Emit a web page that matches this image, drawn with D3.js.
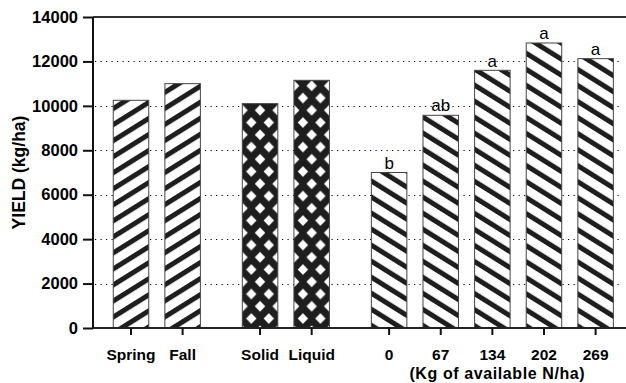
<!DOCTYPE html>
<html>
<head>
<meta charset="utf-8">
<script src="https://cdn.jsdelivr.net/npm/d3@7"></script>
<style>
  html, body { margin: 0; padding: 0; background: #fff; }
  svg { display: block; }
  text { font-family: "Liberation Sans", Arial, sans-serif; fill: #000; }
</style>
</head>
<body>
<script>
// ---- data ----
const categories = ["Spring", "Fall", "Solid", "Liquid", "0", "67", "134", "202", "269"];
const groups     = ["timing", "timing", "source", "source", "rate", "rate", "rate", "rate", "rate"];
const yields     = [10250, 11000, 10100, 11150, 7000, 9575, 11600, 12830, 12125];
const letters    = ["", "", "", "", "b", "ab", "a", "a", "a"];
const fills      = ["fwd", "fwd", "cross", "cross", "back", "back", "back", "back", "back"];
const yTicks     = [0, 2000, 4000, 6000, 8000, 10000, 12000, 14000];
const gridTicks  = [2000, 4000, 6000, 8000, 10000, 12000];
const yTitle     = "YIELD (kg/ha)";
const rateTitle  = "(Kg of available N/ha)";

// ---- layout ----
const W = 626, H = 383;
const mLeft = 93, mRight = 626, mTop = 17, mBottom = 328;
const barW = 35.5;
const dark = "#1e1e1e";

const svg = d3.select("body").append("svg").attr("width", W).attr("height", H);

// slot index: bar index plus half-slot gap between groups
const groupNames = Array.from(new Set(groups));
const slots = categories.map((c, i) => i + 0.5 * groupNames.indexOf(groups[i]));

const x = d3.scaleLinear().domain([0, 9]).range([131, 595.6]);
const y = d3.scaleLinear().domain([0, 14000]).range([mBottom, mTop]);

// ---- patterns ----
const defs = svg.append("defs");
function stripes(id, angle) {
  const s = 13.6;
  const p = defs.append("pattern").attr("id", id)
    .attr("patternUnits", "userSpaceOnUse")
    .attr("width", s).attr("height", s)
    .attr("patternTransform", `rotate(${angle})`);
  p.append("rect").attr("width", s).attr("height", s).attr("fill", "#fff");
  p.append("rect").attr("width", 5).attr("height", s).attr("fill", dark);
}
stripes("fwd", 58);
stripes("back", -58);

categories.forEach((c, i) => {
  if (fills[i] !== "cross") return;
  const tw = 17.5, th = 24.5, dx = 5.2, dy = 5.4;
  const p = defs.append("pattern").attr("id", "cross" + i)
    .attr("patternUnits", "userSpaceOnUse")
    .attr("x", x(slots[i])).attr("y", 208.3)
    .attr("width", tw).attr("height", th);
  p.append("rect").attr("width", tw).attr("height", th).attr("fill", dark);
  const dia = (cx, cy) => `M${cx},${cy - dy}L${cx + dx},${cy}L${cx},${cy + dy}L${cx - dx},${cy}Z`;
  const path = [dia(0, 0), dia(tw, 0), dia(0, th), dia(tw, th), dia(tw / 2, th / 2)].join("");
  p.append("path").attr("d", path).attr("fill", "#fff");
});

// ---- grid ----
svg.append("g").selectAll("line").data(gridTicks).join("line")
  .attr("x1", mLeft + 2).attr("x2", 621)
  .attr("y1", d => Math.round(y(d)) + 0.5).attr("y2", d => Math.round(y(d)) + 0.5)
  .attr("stroke", "#000").attr("stroke-width", 1.1)
  .attr("stroke-dasharray", "1.2,4.3");

// ---- bars ----
svg.append("g").selectAll("rect").data(categories).join("rect")
  .attr("x", (d, i) => x(slots[i]) - barW / 2)
  .attr("y", (d, i) => y(yields[i]))
  .attr("width", barW)
  .attr("height", (d, i) => y(0) - y(yields[i]))
  .attr("fill", (d, i) => fills[i] === "cross" ? `url(#cross${i})` : `url(#${fills[i]})`)
  .attr("stroke", "#444").attr("stroke-width", 1);

// ---- significance letters ----
svg.append("g").selectAll("text").data(categories).join("text")
  .attr("x", (d, i) => x(slots[i]))
  .attr("y", (d, i) => y(yields[i]) - 3.8)
  .attr("text-anchor", "middle")
  .attr("font-size", 17)
  .text((d, i) => letters[i]);

// ---- frame lines ----
svg.append("line").attr("x1", mLeft).attr("x2", mRight).attr("y1", mTop).attr("y2", mTop)
  .attr("stroke", "#333").attr("stroke-width", 2);
svg.append("line").attr("x1", mLeft).attr("x2", mRight).attr("y1", mBottom).attr("y2", mBottom)
  .attr("stroke", "#222").attr("stroke-width", 2);

// ---- y axis ----
const yAxis = d3.axisLeft(y).tickValues(yTicks).tickSize(10).tickPadding(5).tickFormat(d3.format("d"));
const gy = svg.append("g").attr("transform", `translate(${mLeft},0)`).call(yAxis);
gy.select(".domain").attr("stroke", "#111").attr("stroke-width", 2).attr("d", `M0,${mTop}V${mBottom}`);
gy.selectAll(".tick line").attr("stroke", "#111").attr("stroke-width", 2);
gy.selectAll(".tick text").attr("font-size", 16.5).attr("font-weight", "bold")
  .attr("font-family", "Liberation Sans, Arial, sans-serif").attr("fill", "#000");

// ---- x axis ticks + labels ----
const gx = svg.append("g");
gx.selectAll("line").data(categories).join("line")
  .attr("x1", (d, i) => x(slots[i])).attr("x2", (d, i) => x(slots[i]))
  .attr("y1", mBottom).attr("y2", mBottom + 7)
  .attr("stroke", "#111").attr("stroke-width", 2);
gx.selectAll("text").data(categories).join("text")
  .attr("x", (d, i) => x(slots[i])).attr("y", 360)
  .attr("text-anchor", "middle").attr("font-size", 15.5).attr("font-weight", "bold")
  .text(d => d);

// rate group title
const rateIdx = categories.map((c, i) => i).filter(i => groups[i] === "rate");
svg.append("text")
  .attr("x", (x(slots[rateIdx[0]]) + x(slots[rateIdx[rateIdx.length - 1]])) / 2 + 5)
  .attr("y", 378.5)
  .attr("text-anchor", "middle").attr("font-size", 16).attr("font-weight", "bold")
  .attr("letter-spacing", 0.6)
  .text(rateTitle);

// y title
svg.append("text")
  .attr("transform", `translate(25,${(mTop + mBottom) / 2}) rotate(-90)`)
  .attr("text-anchor", "middle").attr("font-size", 17.5).attr("font-weight", "bold")
  .text(yTitle);
</script>
</body>
</html>
